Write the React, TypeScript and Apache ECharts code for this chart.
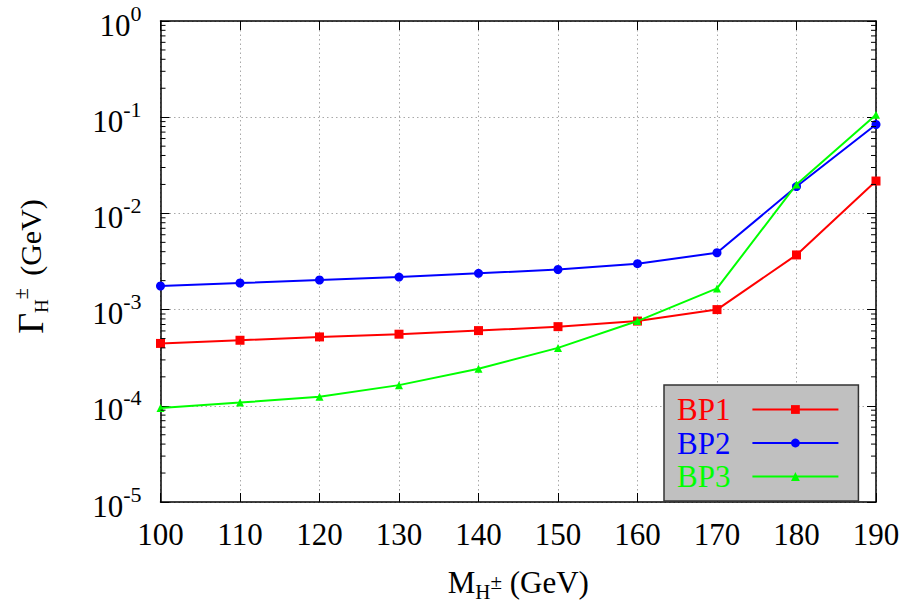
import React, { useEffect, useRef } from "react";
import * as echarts from "echarts";

// Charged Higgs total width vs. mass for three benchmark points
const masses = [100, 110, 120, 130, 140, 150, 160, 170, 180, 190];
const bp1 = [4.45e-4, 4.8e-4, 5.2e-4, 5.55e-4, 6.05e-4, 6.65e-4, 7.6e-4, 1.0e-3, 3.7e-3, 2.17e-2];
const bp2 = [1.76e-3, 1.89e-3, 2.03e-3, 2.18e-3, 2.38e-3, 2.61e-3, 3.0e-3, 3.9e-3, 1.9e-2, 8.4e-2];
const bp3 = [9.5e-5, 1.08e-4, 1.24e-4, 1.64e-4, 2.43e-4, 4.0e-4, 7.6e-4, 1.66e-3, 2.0e-2, 1.06e-1];

const seriesNames = ["BP1", "BP2", "BP3"];
const seriesColors = ["#ff0000", "#0000ff", "#00ff00"];
const seriesSymbols = ["rect", "circle", "triangle"];
const seriesData = [bp1, bp2, bp3];

const X_MIN = 100;
const X_MAX = 190;
const X_STEP = 10;
const Y_MIN = 1e-5;
const Y_MAX = 1;
const decades = [1e-5, 1e-4, 1e-3, 1e-2, 1e-1];
const minorMultipliers = [2, 3, 4, 5, 6, 7, 8, 9];

const FONT = "Liberation Serif";

export default function App() {
  const ref = useRef<HTMLDivElement>(null);

  useEffect(() => {
    if (!ref.current) return;
    const chart = echarts.init(ref.current, undefined, { renderer: "svg" });

    const minorValues = decades.flatMap((d) => minorMultipliers.map((m) => m * d));

    const tickLabelRich = {
      b: { fontSize: 31, fontFamily: FONT, color: "#000", lineHeight: 46 },
      s: { fontSize: 22, fontFamily: FONT, color: "#000", lineHeight: 22, verticalAlign: "top" },
    };

    const option: any = {
      animation: false,
      backgroundColor: "#ffffff",
      textStyle: { fontFamily: FONT },
      grid: { left: 160.5, right: 33, top: 21, bottom: 100, containLabel: false },
      xAxis: [
        {
          type: "value",
          min: X_MIN,
          max: X_MAX,
          interval: X_STEP,
          name: "{m|M}{h|H}{p|±}{t| (GeV)}",
          nameLocation: "middle",
          nameGap: 60,
          nameTextStyle: {
            fontFamily: FONT,
            color: "#000",
            rich: {
              m: { fontSize: 31, fontFamily: FONT, color: "#000", lineHeight: 40 },
              h: { fontSize: 21, fontFamily: FONT, color: "#000", lineHeight: 18, verticalAlign: "bottom" },
              p: { fontSize: 21, fontFamily: FONT, color: "#000", lineHeight: 40 },
              t: { fontSize: 31, fontFamily: FONT, color: "#000", lineHeight: 40 },
            },
          },
          axisLine: { show: true, onZero: false, lineStyle: { color: "#000", width: 1.5 } },
          axisTick: { show: true, inside: true, length: 9, lineStyle: { color: "#000", width: 1 } },
          axisLabel: { fontFamily: FONT, fontSize: 31, color: "#000", margin: 17 },
          splitLine: { show: true, lineStyle: { color: "#a8a8a8", width: 1, type: [1.5, 3] } },
        },
        {
          type: "value",
          position: "top",
          min: X_MIN,
          max: X_MAX,
          interval: X_STEP,
          axisLine: { show: true, onZero: false, lineStyle: { color: "#000", width: 1.5 } },
          axisTick: { show: true, inside: true, length: 9, lineStyle: { color: "#000", width: 1 } },
          axisLabel: { show: false },
          splitLine: { show: false },
        },
      ],
      yAxis: [
        {
          type: "log",
          logBase: 10,
          min: Y_MIN,
          max: Y_MAX,
          name: "{g|Γ}{h|H}{p|±}{t| (GeV)}",
          nameLocation: "middle",
          nameRotate: 90,
          nameGap: 110,
          nameTextStyle: {
            fontFamily: FONT,
            color: "#000",
            padding: [0, 10, 0, 0],
            rich: {
              g: { fontSize: 36, fontFamily: FONT, color: "#000", lineHeight: 40 },
              h: { fontSize: 19, fontFamily: FONT, color: "#000", lineHeight: 14, verticalAlign: "bottom" },
              p: { fontSize: 20, fontFamily: FONT, color: "#000", lineHeight: 10, verticalAlign: "top" },
              t: { fontSize: 30, fontFamily: FONT, color: "#000", lineHeight: 40, padding: [0, 0, 0, 5] },
            },
          },
          axisLine: { show: true, onZero: false, lineStyle: { color: "#000", width: 1.5 } },
          axisTick: { show: true, inside: true, length: 9, lineStyle: { color: "#000", width: 1 } },
          axisLabel: {
            margin: 19,
            padding: [8, 0, 0, 0],
            fontFamily: FONT,
            formatter: (v: number) => `{b|10}{s|${Math.round(Math.log10(v))}}`,
            rich: tickLabelRich,
          },
          splitLine: { show: true, lineStyle: { color: "#a8a8a8", width: 1, type: [1.5, 3] } },
        },
        {
          type: "log",
          logBase: 10,
          position: "right",
          min: Y_MIN,
          max: Y_MAX,
          axisLine: { show: true, onZero: false, lineStyle: { color: "#000", width: 1.5 } },
          axisTick: { show: true, inside: true, length: 9, lineStyle: { color: "#000", width: 1 } },
          axisLabel: { show: false },
          splitLine: { show: false },
        },
      ],
      legend: {
        show: true,
        orient: "vertical",
        left: 664,
        top: 385,
        align: "right",
        itemWidth: 86,
        itemHeight: 11,
        itemGap: 2.5,
        padding: [9, 19, 9, 13],
        backgroundColor: "#c0c0c0",
        borderColor: "#333333",
        borderWidth: 1.5,
        borderRadius: 0,
        selectedMode: false,
        textStyle: { fontFamily: FONT, fontSize: 31, lineHeight: 30, padding: [0, 17, 0, 0] },
        data: seriesNames.map((n, i) => ({ name: n, textStyle: { color: seriesColors[i] } })),
      },
      series: [
        ...seriesNames.map((name, i) => ({
          name,
          type: "line",
          xAxisIndex: 0,
          yAxisIndex: 0,
          data: masses.map((m, j) => [m, seriesData[i][j]]),
          symbol: seriesSymbols[i],
          symbolSize: i === 2 ? 8 : 9,
          showSymbol: true,
          lineStyle: { color: seriesColors[i], width: 2 },
          itemStyle: { color: seriesColors[i] },
          z: 3 + i,
        })),
        {
          type: "custom",
          name: "minor ticks",
          xAxisIndex: 0,
          yAxisIndex: 0,
          silent: true,
          z: 10,
          data: minorValues.map((v) => [X_MIN, v]),
          renderItem: (_params: any, api: any) => {
            const v = api.value(1);
            const l = api.coord([X_MIN, v]);
            const r = api.coord([X_MAX, v]);
            return {
              type: "group",
              children: [
                { type: "line", shape: { x1: l[0], y1: l[1], x2: l[0] + 5, y2: l[1] }, style: { stroke: "#000", lineWidth: 1 } },
                { type: "line", shape: { x1: r[0] - 5, y1: r[1], x2: r[0], y2: r[1] }, style: { stroke: "#000", lineWidth: 1 } },
              ],
            };
          },
        },
      ],
    };

    chart.setOption(option);
    return () => chart.dispose();
  }, []);

  return (
    <div
      ref={ref}
      style={{ position: "fixed", left: 0, top: 0, width: 909, height: 607, background: "#fff" }}
    />
  );
}
